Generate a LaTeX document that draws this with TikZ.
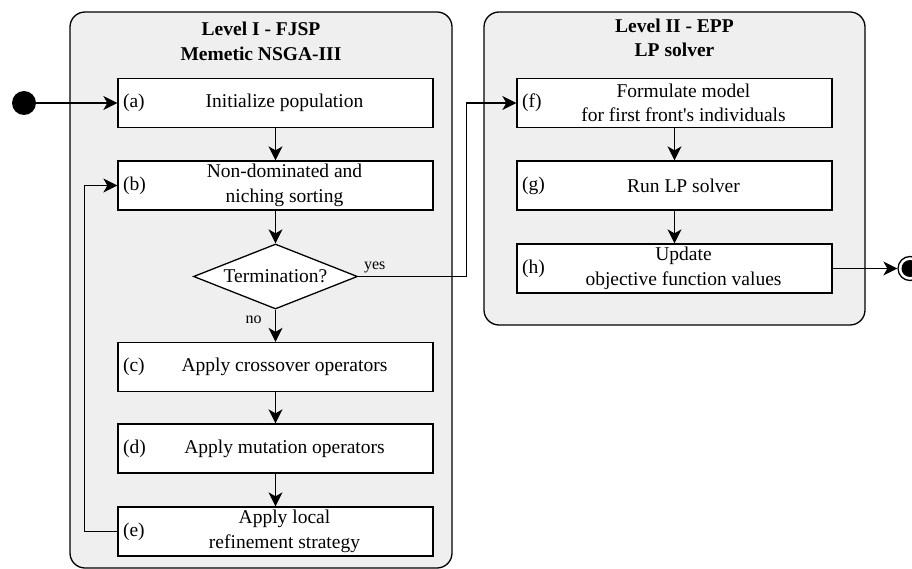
\documentclass[tikz,border=0pt]{standalone}
\usepackage{fontspec}
\setmainfont{Liberation Serif}
\usetikzlibrary{shapes.geometric,arrows.meta}

\definecolor{panelgray}{HTML}{EFEFEF}

\tikzset{
    panel/.style={draw, fill=panelgray, line width=1.3pt, rounded corners=15pt},
    box/.style={draw, fill=white, line width=1.3pt, minimum width=315pt, minimum height=49pt, inner sep=0pt},
    decision/.style={diamond, draw, fill=white, line width=1.3pt, aspect=2.5, inner sep=0pt, minimum width=164pt, minimum height=65pt},
    tag/.style={anchor=west, inner sep=0pt, xshift=5.5pt},
    txt/.style={align=center, inner sep=0pt},
    small/.style={font=\fontsize{16}{19}\selectfont},
    flow/.style={-{Stealth[length=14pt,width=14pt,inset=4pt]}, line width=1.3pt}
}

\begin{document}
\begin{tikzpicture}[x=1pt, y=-1pt, font=\fontsize{19.5}{24.5}\selectfont]
    \useasboundingbox (0,0) rectangle (912,569);

    % Panels
    \draw[panel] (70,12) rectangle (452,568);
    \draw[panel] (484,12) rectangle (865,325);
    \node[txt, font=\fontsize{19.5}{25}\selectfont\bfseries] (lvlone) at (261,41) {Level I - FJSP\\Memetic NSGA-III};
    \node[txt, font=\fontsize{19.5}{24.5}\selectfont\bfseries] (lvltwo) at (674.5,38) {Level II - EPP\\LP solver};

    % Level I steps
    \foreach \n/\y/\t in {a/103/Initialize population,
                          b/185.5/Non-dominated and\\niching sorting,
                          c/367/Apply crossover operators,
                          d/448.5/Apply mutation operators,
                          e/531.5/Apply local\\refinement strategy}{
        \node[box] (\n) at (275.5,\y) {};
        \node[tag] (\n-tag) at (\n.west) {(\n)};
        \node[txt] (\n-txt) at ([xshift=9pt]\n.center) {\t};
    }
    \node[decision] (term) at (275.5,276.5) {Termination?};

    % Level II steps
    \foreach \n/\y/\t in {f/103/Formulate model\\for first front\textquotesingle s individuals,
                          g/185.5/Run LP solver,
                          h/268.5/Update\\objective function values}{
        \node[box] (\n) at (674.5,\y) {};
        \node[tag] (\n-tag) at (\n.west) {(\n)};
        \node[txt] (\n-txt) at ([xshift=9pt]\n.center) {\t};
    }

    % Start and end
    \node[circle, fill=black, minimum size=24pt, inner sep=0pt] (start) at (24,103) {};
    \node[circle, draw, fill=white, line width=1.3pt, minimum size=24pt, inner sep=0pt] (stop) at (910,268.5) {};
    \node[circle, fill=black, minimum size=17pt, inner sep=0pt] (stopdot) at (stop.center) {};

    % Flow
    \draw[flow] (start) -- (a);
    \draw[flow] (a) -- (b);
    \draw[flow] (b) -- (term);
    \draw[flow] (term) -- node[small, left=10pt, pos=0.3] (nolbl) {no} (c);
    \draw[flow] (c) -- (d);
    \draw[flow] (d) -- (e);
    \draw[flow] (e.west) -- ++(-33,0) |- (b.west);
    \draw[flow] (term.east) node[small, above right, xshift=2pt] (yeslbl) {yes}
        -| ([xshift=-50pt]f.west) -- (f.west);
    \draw[flow] (f) -- (g);
    \draw[flow] (g) -- (h);
    \draw[flow] (h.east) -- (stop);
\end{tikzpicture}
\end{document}
